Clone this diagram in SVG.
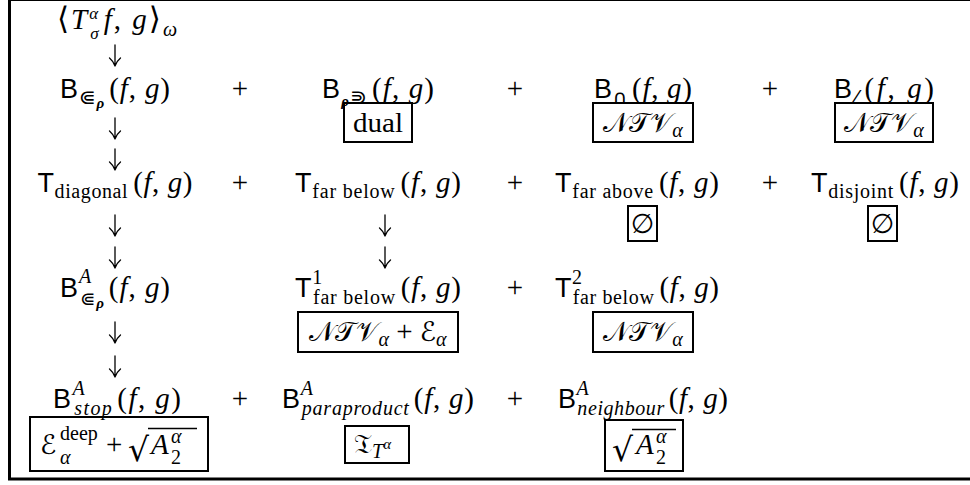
<svg xmlns="http://www.w3.org/2000/svg" width="970" height="485" viewBox="0 0 970 485">
<style>
text { font-family: "Liberation Serif", "DejaVu Serif", serif; font-size: 29px; fill: #000; }
.sf { font-family: "Liberation Sans", "DejaVu Sans", sans-serif; font-size: 27px; }
.it { font-style: italic; }
.bi { font-style: italic; font-weight: bold; }
.sy { font-family: "DejaVu Sans", sans-serif; }
.cal { font-family: "DejaVu Sans", "Noto Sans", sans-serif; font-size: 27px; }
.s { font-size: 20px; }
.ss { font-size: 15px; }
.m { text-anchor: middle; }
.bx { fill: none; stroke: #000; stroke-width: 2; }
.ar { fill: none; stroke: #000; stroke-width: 1.3; stroke-linecap: round; }
.frame { fill: none; stroke: #000; stroke-width: 3; }
.vin { stroke: #000; stroke-width: 1.4; }
</style>
<rect class="frame" x="9.5" y="-0.5" width="975" height="479.5"/>

<g id="n-pairing">
<text class="m" x="117" y="29" textLength="120" lengthAdjust="spacing"><tspan class="sy" style="font-size:31px">⟨</tspan><tspan class="it">T</tspan><tspan class="it" style="font-size:17px" dy="-10">α</tspan><tspan class="it" style="font-size:17px" dx="-10" dy="20">σ</tspan><tspan class="it" dx="3" dy="-10">f</tspan>, <tspan class="it">g</tspan><tspan class="sy" style="font-size:31px">⟩</tspan><tspan class="s it" dy="7">ω</tspan></text>
</g>

<g id="n-b-subset">
<text class="m" x="115" y="98" textLength="110" lengthAdjust="spacing"><tspan class="sf">B</tspan><tspan class="s sy" dy="6">⋐</tspan><tspan class="ss bi" dy="4">ρ</tspan><tspan dx="4" dy="-10">(</tspan><tspan class="it">f</tspan>, <tspan class="it">g</tspan>)</text>
</g>
<g id="n-b-supset">
<text class="m" x="378" y="98" textLength="112" lengthAdjust="spacing"><tspan class="sf">B</tspan><tspan class="ss bi" dy="8">ρ</tspan><tspan class="s sy" dy="-2">⋑</tspan><tspan dx="4" dy="-6">(</tspan><tspan class="it">f</tspan>, <tspan class="it">g</tspan>)</text>
<rect class="bx" x="344" y="103" width="68" height="39"/>
<text class="m" x="378" y="132" textLength="50" lengthAdjust="spacingAndGlyphs" style="font-size:28px">dual</text>
</g>
<g id="n-b-cap">
<text class="m" x="643" y="98" textLength="98" lengthAdjust="spacing"><tspan class="sf">B</tspan><tspan class="s sy" dy="6">∩</tspan><tspan dx="4" dy="-6">(</tspan><tspan class="it">f</tspan>, <tspan class="it">g</tspan>)</text>
<rect class="bx" x="593" y="103" width="100" height="39"/>
<text class="m" x="643" y="132"><tspan class="cal">𝒩𝒯𝒱</tspan><tspan class="s it" dy="5">α</tspan></text>
</g>
<g id="n-b-slash">
<text class="m" x="884" y="98" textLength="100" lengthAdjust="spacing"><tspan class="sf">B</tspan><tspan class="s sy" dy="6">⁄</tspan><tspan dx="4" dy="-6">(</tspan><tspan class="it">f</tspan>, <tspan class="it">g</tspan>)</text>
<rect class="bx" x="835" y="103" width="98" height="39"/>
<text class="m" x="884" y="132"><tspan class="cal">𝒩𝒯𝒱</tspan><tspan class="s it" dy="5">α</tspan></text>
</g>

<g id="n-t-diagonal">
<text class="m" x="115" y="192" textLength="155" lengthAdjust="spacing"><tspan class="sf">T</tspan><tspan class="s" dy="6">diagonal</tspan><tspan dx="5" dy="-6">(</tspan><tspan class="it">f</tspan>, <tspan class="it">g</tspan>)</text>
</g>
<g id="n-t-farbelow">
<text class="m" x="378" y="192" textLength="166" lengthAdjust="spacing"><tspan class="sf">T</tspan><tspan class="s" dy="6">far below</tspan><tspan dx="5" dy="-6">(</tspan><tspan class="it">f</tspan>, <tspan class="it">g</tspan>)</text>
</g>
<g id="n-t-farabove">
<text class="m" x="637" y="192" textLength="164" lengthAdjust="spacing"><tspan class="sf">T</tspan><tspan class="s" dy="6">far above</tspan><tspan dx="5" dy="-6">(</tspan><tspan class="it">f</tspan>, <tspan class="it">g</tspan>)</text>
<rect class="bx" x="628" y="206" width="29" height="35"/>
<text class="m sy" x="642.5" y="233" style="font-size:27px">∅</text>
</g>
<g id="n-t-disjoint">
<text class="m" x="885" y="192" textLength="148" lengthAdjust="spacing"><tspan class="sf">T</tspan><tspan class="s" dy="6">disjoint</tspan><tspan dx="5" dy="-6">(</tspan><tspan class="it">f</tspan>, <tspan class="it">g</tspan>)</text>
<rect class="bx" x="868" y="206" width="29" height="35"/>
<text class="m sy" x="882.5" y="233" style="font-size:27px">∅</text>
</g>

<g id="n-ba-subset">
<text class="m" x="115" y="297" textLength="110" lengthAdjust="spacing"><tspan class="sf">B</tspan><tspan class="s it" dy="-14">A</tspan><tspan class="sy" style="font-size:18px" dx="-12" dy="22">⋐</tspan><tspan class="ss bi" dy="3">ρ</tspan><tspan dx="4" dy="-11">(</tspan><tspan class="it">f</tspan>, <tspan class="it">g</tspan>)</text>
</g>
<g id="n-t1-farbelow">
<text class="m" x="378" y="297" textLength="166" lengthAdjust="spacing"><tspan class="sf">T</tspan><tspan class="s" dy="-13">1</tspan><tspan class="s" dx="-10" dy="20">far below</tspan><tspan dx="5" dy="-7">(</tspan><tspan class="it">f</tspan>, <tspan class="it">g</tspan>)</text>
<rect class="bx" x="298" y="312" width="160" height="40"/>
<text class="m" x="378" y="341"><tspan class="cal">𝒩𝒯𝒱</tspan><tspan class="s it" dy="5">α</tspan><tspan dy="-5"> + </tspan><tspan class="cal">ℰ</tspan><tspan class="s it" dy="5">α</tspan></text>
</g>
<g id="n-t2-farbelow">
<text class="m" x="637" y="297" textLength="164" lengthAdjust="spacing"><tspan class="sf">T</tspan><tspan class="s" dy="-13">2</tspan><tspan class="s" dx="-10" dy="20">far below</tspan><tspan dx="5" dy="-7">(</tspan><tspan class="it">f</tspan>, <tspan class="it">g</tspan>)</text>
<rect class="bx" x="593" y="312" width="100" height="40"/>
<text class="m" x="643" y="341"><tspan class="cal">𝒩𝒯𝒱</tspan><tspan class="s it" dy="5">α</tspan></text>
</g>

<g id="n-ba-stop">
<text class="m" x="117" y="408" textLength="128" lengthAdjust="spacing"><tspan class="sf">B</tspan><tspan class="s it" dy="-13">A</tspan><tspan class="s it" dx="-12" dy="20">stop</tspan><tspan dx="4" dy="-7">(</tspan><tspan class="it">f</tspan>, <tspan class="it">g</tspan>)</text>
<rect class="bx" x="30" y="417" width="178" height="54"/>
<text class="cal" x="40" y="454">ℰ</text>
<text class="s" x="60" y="440">deep</text>
<text class="s it" x="60" y="464">α</text>
<text x="106" y="454">+</text>
<text class="sy" x="128" y="461" style="font-size:33px">√</text>
<line class="vin" x1="148" y1="428.5" x2="197" y2="428.5"/>
<text class="it" x="151" y="454">A</text>
<text class="s it" x="171" y="443">α</text>
<text class="s" x="171" y="464">2</text>
</g>
<g id="n-ba-paraproduct">
<text class="m" x="378" y="408" textLength="192" lengthAdjust="spacing"><tspan class="sf">B</tspan><tspan class="s it" dy="-13">A</tspan><tspan class="s it" dx="-12" dy="20">paraproduct</tspan><tspan dx="4" dy="-7">(</tspan><tspan class="it">f</tspan>, <tspan class="it">g</tspan>)</text>
<rect class="bx" x="345" y="426" width="64" height="37"/>
<text x="354" y="453"><tspan class="cal">𝔗</tspan><tspan class="s it" dy="5">T</tspan><tspan class="ss it" dy="-9">α</tspan></text>
</g>
<g id="n-ba-neighbour">
<text class="m" x="643" y="408" textLength="170" lengthAdjust="spacing"><tspan class="sf">B</tspan><tspan class="s it" dy="-13">A</tspan><tspan class="s it" dx="-12" dy="20">neighbour</tspan><tspan dx="4" dy="-7">(</tspan><tspan class="it">f</tspan>, <tspan class="it">g</tspan>)</text>
<rect class="bx" x="605" y="420" width="78" height="51"/>
<text class="sy" x="612" y="461" style="font-size:33px">√</text>
<line class="vin" x1="632" y1="429.5" x2="676" y2="429.5"/>
<text class="it" x="636" y="454">A</text>
<text class="s it" x="656" y="443">α</text>
<text class="s" x="656" y="464">2</text>
</g>

<g id="ops">
<text class="m" x="240" y="98">+</text>
<text class="m" x="515" y="98">+</text>
<text class="m" x="770" y="98">+</text>
<text class="m" x="240" y="192">+</text>
<text class="m" x="515" y="192">+</text>
<text class="m" x="770" y="192">+</text>
<text class="m" x="515" y="297">+</text>
<text class="m" x="240" y="408">+</text>
<text class="m" x="515" y="408">+</text>
</g>

<g id="connectors">
<path class="ar" d="M115 45V66M109.5 58C112.5 60.5 114 63 115 66M120.5 58C117.5 60.5 116 63 115 66"/>
<path class="ar" d="M115 118V139M109.5 131C112.5 133.5 114 136 115 139M120.5 131C117.5 133.5 116 136 115 139"/>
<path class="ar" d="M115 149V170M109.5 162C112.5 164.5 114 167 115 170M120.5 162C117.5 164.5 116 167 115 170"/>
<path class="ar" d="M115 215V236M109.5 228C112.5 230.5 114 233 115 236M120.5 228C117.5 230.5 116 233 115 236"/>
<path class="ar" d="M115 247V268M109.5 260C112.5 262.5 114 265 115 268M120.5 260C117.5 262.5 116 265 115 268"/>
<path class="ar" d="M115 322V343M109.5 335C112.5 337.5 114 340 115 343M120.5 335C117.5 337.5 116 340 115 343"/>
<path class="ar" d="M115 356V377M109.5 369C112.5 371.5 114 374 115 377M120.5 369C117.5 371.5 116 374 115 377"/>
<path class="ar" d="M385 215V236M379.5 228C382.5 230.5 384 233 385 236M390.5 228C387.5 230.5 386 233 385 236"/>
<path class="ar" d="M385 247V268M379.5 260C382.5 262.5 384 265 385 268M390.5 260C387.5 262.5 386 265 385 268"/>
</g>
</svg>
